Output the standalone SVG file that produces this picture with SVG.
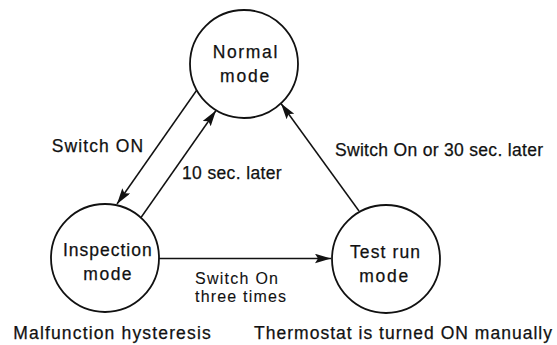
<svg xmlns="http://www.w3.org/2000/svg" width="557" height="345" viewBox="0 0 557 345">
<style>
text{font-family:"Liberation Sans",Arial,Helvetica,sans-serif;font-size:17.5px;fill:#111;stroke:#111;stroke-width:0.25}
.small{font-size:16px;stroke-width:0.1}
.node circle{fill:#fff;stroke:#111;stroke-width:1.8}
.edge{stroke:#111;stroke-width:1.5;fill:none;marker-end:url(#ah)}
</style>
<defs>
<marker id="ah" markerUnits="userSpaceOnUse" markerWidth="18" markerHeight="11" refX="16" refY="4.75" orient="auto">
<path d="M0,0 L16,4.75 L0,9.5 L3,4.75 z" fill="#111"/>
</marker>
</defs>
<rect width="557" height="345" fill="#fff"/>
<g id="connectors">
<line class="edge" x1="196.5" y1="90.5" x2="117" y2="204"/>
<line class="edge" x1="141" y1="217.5" x2="216" y2="110.5"/>
<line class="edge" x1="159" y1="258.5" x2="331" y2="258.5"/>
<line class="edge" x1="359" y1="211" x2="281" y2="103.5"/>
</g>
<g id="normal" class="node">
<circle cx="244" cy="64" r="54"/>
<text x="212.7" y="58.3" textLength="64.6" lengthAdjust="spacing">Normal</text>
<text x="220" y="82.3" textLength="49.3" lengthAdjust="spacing">mode</text>
</g>
<g id="inspection" class="node">
<circle cx="105" cy="258" r="54"/>
<text x="63" y="255.7" textLength="88.7" lengthAdjust="spacing">Inspection</text>
<text x="83.3" y="280" textLength="48.3" lengthAdjust="spacing">mode</text>
</g>
<g id="testrun" class="node">
<circle cx="386" cy="259" r="54"/>
<text x="350" y="258.3" textLength="70" lengthAdjust="spacing">Test run</text>
<text x="359.3" y="281.7" textLength="49" lengthAdjust="spacing">mode</text>
</g>
<g id="labels">
<text x="51.7" y="151.7" textLength="91.5" lengthAdjust="spacing">Switch ON</text>
<text x="182" y="179.3" textLength="99.7" lengthAdjust="spacing">10 sec. later</text>
<text x="335" y="156" textLength="208" lengthAdjust="spacing">Switch On or 30 sec. later</text>
<text class="small" x="195" y="284" textLength="83" lengthAdjust="spacing">Switch On</text>
<text class="small" x="195" y="302" textLength="91" lengthAdjust="spacing">three times</text>
<text x="13.3" y="339.3" textLength="197.4" lengthAdjust="spacing">Malfunction hysteresis</text>
<text x="254" y="339.3" textLength="298" lengthAdjust="spacing">Thermostat is turned ON manually</text>
</g>
</svg>
